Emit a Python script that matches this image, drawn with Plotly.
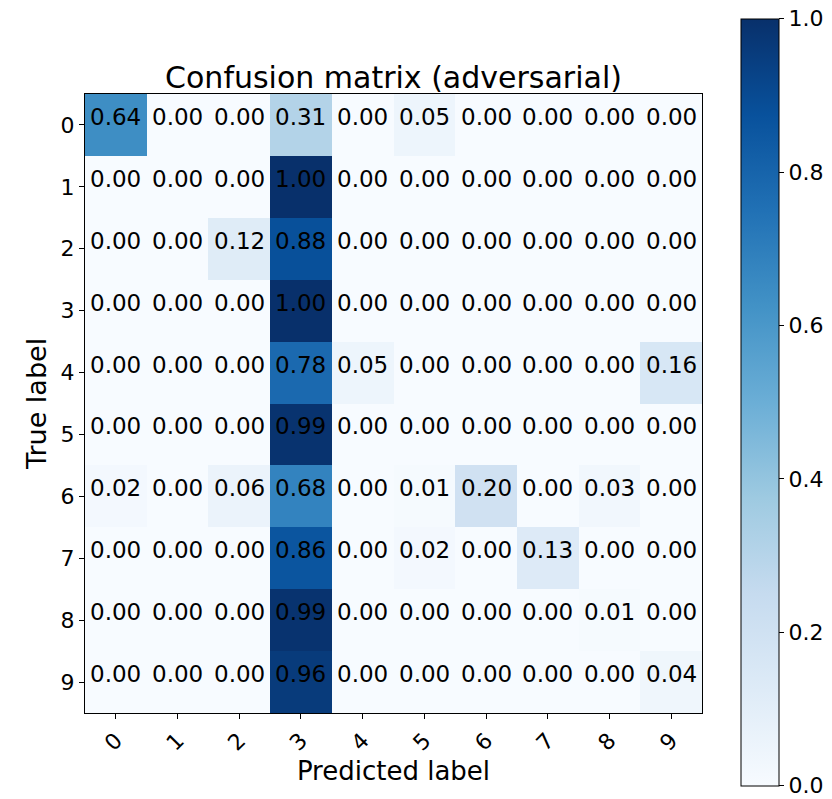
import plotly.graph_objects as go

# Class labels (digits 0-9)
classes = ["0", "1", "2", "3", "4", "5", "6", "7", "8", "9"]

# Normalized confusion matrix rows (true label -> predicted label)
row_0 = [0.64, 0.00, 0.00, 0.31, 0.00, 0.05, 0.00, 0.00, 0.00, 0.00]
row_1 = [0.00, 0.00, 0.00, 1.00, 0.00, 0.00, 0.00, 0.00, 0.00, 0.00]
row_2 = [0.00, 0.00, 0.12, 0.88, 0.00, 0.00, 0.00, 0.00, 0.00, 0.00]
row_3 = [0.00, 0.00, 0.00, 1.00, 0.00, 0.00, 0.00, 0.00, 0.00, 0.00]
row_4 = [0.00, 0.00, 0.00, 0.78, 0.05, 0.00, 0.00, 0.00, 0.00, 0.16]
row_5 = [0.00, 0.00, 0.00, 0.99, 0.00, 0.00, 0.00, 0.00, 0.00, 0.00]
row_6 = [0.02, 0.00, 0.06, 0.68, 0.00, 0.01, 0.20, 0.00, 0.03, 0.00]
row_7 = [0.00, 0.00, 0.00, 0.86, 0.00, 0.02, 0.00, 0.13, 0.00, 0.00]
row_8 = [0.00, 0.00, 0.00, 0.99, 0.00, 0.00, 0.00, 0.00, 0.01, 0.00]
row_9 = [0.00, 0.00, 0.00, 0.96, 0.00, 0.00, 0.00, 0.00, 0.00, 0.04]

matrix = [row_0, row_1, row_2, row_3, row_4, row_5, row_6, row_7, row_8, row_9]

# Colorbar tick values and labels
cbar_ticks = [0.0, 0.2, 0.4, 0.6, 0.8, 1.0]
cbar_labels = ["0.0", "0.2", "0.4", "0.6", "0.8", "1.0"]

# Matplotlib-style "Blues" colormap (ColorBrewer 9-class)
blues = [
    [0.000, "rgb(247,251,255)"],
    [0.125, "rgb(222,235,247)"],
    [0.250, "rgb(198,219,239)"],
    [0.375, "rgb(158,202,225)"],
    [0.500, "rgb(107,174,214)"],
    [0.625, "rgb(66,146,198)"],
    [0.750, "rgb(33,113,181)"],
    [0.875, "rgb(8,81,156)"],
    [1.000, "rgb(8,48,107)"],
]

FONT = "DejaVu Sans"

fig = go.Figure(
    go.Heatmap(
        z=matrix,
        x=classes,
        y=classes,
        zmin=0,
        zmax=1,
        colorscale=blues,
        hoverinfo="skip",
        colorbar=dict(
            x=1.063,
            xanchor="left",
            y=0.502,
            yanchor="middle",
            len=767,
            lenmode="pixels",
            thickness=38,
            thicknessmode="pixels",
            outlinecolor="black",
            outlinewidth=1,
            tickvals=cbar_ticks,
            ticktext=cbar_labels,
            ticks="outside",
            ticklen=5,
            tickcolor="black",
            ticklabeloverflow="allow",
            tickfont=dict(family=FONT, size=22, color="black"),
            xpad=0,
            ypad=0,
        ),
    )
)

# Cell value labels, formatted to two decimals
annotations = []
for i, true_lbl in enumerate(classes):
    for j, pred_lbl in enumerate(classes):
        annotations.append(
            dict(
                x=pred_lbl,
                y=true_lbl,
                xref="x",
                yref="y",
                text=f"{matrix[i][j]:.2f}",
                showarrow=False,
                yshift=8,
                font=dict(family=FONT, size=23, color="black"),
            )
        )

fig.update_layout(
    width=832,
    height=799,
    margin=dict(l=85, r=130, t=94, b=86, autoexpand=False),
    plot_bgcolor="white",
    paper_bgcolor="white",
    font=dict(family=FONT, color="black"),
    annotations=annotations,
    title=dict(
        text="Confusion matrix (adversarial)",
        x=0.5,
        xref="paper",
        xanchor="center",
        y=1,
        yref="paper",
        yanchor="bottom",
        pad=dict(b=6),
        font=dict(family=FONT, size=30, color="black"),
    ),
    xaxis=dict(
        title=dict(text="Predicted label", font=dict(family=FONT, size=26), standoff=4),
        tickangle=-45,
        ticks="outside",
        ticklen=5,
        tickcolor="black",
        tickfont=dict(family=FONT, size=22),
        showline=True,
        linecolor="black",
        linewidth=1,
        mirror=True,
        showgrid=False,
        zeroline=False,
    ),
    yaxis=dict(
        title=dict(text="True label", font=dict(family=FONT, size=27), standoff=6),
        autorange="reversed",
        ticks="outside",
        ticklen=5,
        tickcolor="black",
        tickfont=dict(family=FONT, size=22),
        showline=True,
        linecolor="black",
        linewidth=1,
        mirror=True,
        showgrid=False,
        zeroline=False,
    ),
)

fig.write_html("out.html")
